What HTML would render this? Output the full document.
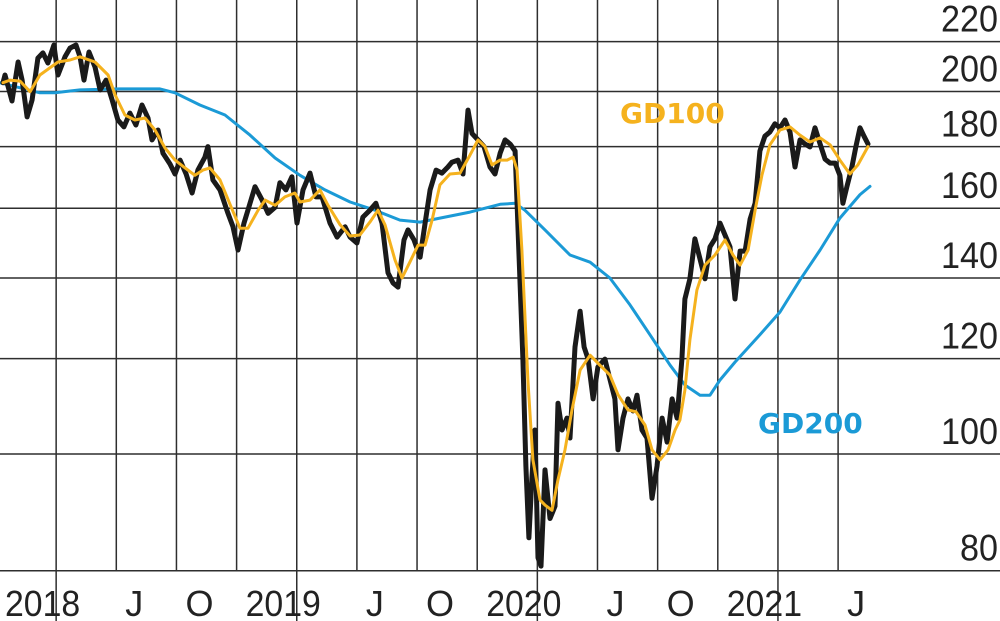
<!DOCTYPE html>
<html><head><meta charset="utf-8"><style>
html,body{margin:0;padding:0;background:#fff;}
svg{display:block;}
</style></head><body>
<svg id="chart" width="1000" height="621" viewBox="0 0 1000 621" xmlns="http://www.w3.org/2000/svg"></svg>
<script>
const priceMonths=[.35,.45,.8,1.1,1.3,1.55,1.8,2.09,2.34,2.59,2.89,3.09,3.44,3.69,3.99,4.19,4.39,4.64,4.94,5.19,5.49,5.79,6.08,6.38,6.68,6.98,7.28,7.58,7.78,8.08,8.33,8.68,8.93,9.18,9.48,9.78,10.07,10.42,10.57,10.82,11.17,11.57,11.82,12.07,12.37,12.67,12.92,13.27,13.57,13.92,14.16,14.46,14.76,15.01,15.31,15.66,15.96,16.26,16.66,17.01,17.41,17.66,18,18.3,18.65,18.95,19.25,19.55,19.8,20.05,20.35,20.55,20.85,21.15,21.4,21.65,21.95,22.24,22.54,22.74,23.04,23.29,23.54,23.74,24.04,24.34,24.64,24.89,25.14,25.39,25.64,25.89,26.13,26.28,26.43,26.58,26.73,26.88,27.03,27.18,27.38,27.63,27.88,28.03,28.23,28.48,28.63,28.88,29.13,29.33,29.53,29.78,30.02,30.37,30.62,30.87,31.02,31.27,31.52,31.77,31.97,32.22,32.47,32.72,32.97,33.22,33.47,33.72,33.97,34.21,34.36,34.61,34.86,35.11,35.36,35.61,35.86,36.11,36.36,36.61,36.86,37.11,37.36,37.61,37.86,38.1,38.35,38.6,38.85,39.1,39.35,39.6,39.85,40.1,40.35,40.6,40.85,41.1,41.35,41.6,41.85,42.09,42.24,42.44,42.69,42.89,43.09,43.29,43.49];
const priceValues=[203.4,206.4,196.4,211.6,204.4,190.5,196.8,213.2,215.3,211.2,218.6,206.4,213.7,217.3,218.6,213.7,204.4,215.7,209.6,200.6,204.4,196.8,189.4,186.9,191.9,187.6,194.9,190.1,182.3,185.8,177.7,174.1,170.8,175.4,170.8,164.7,172.1,176.4,180,168.9,165.7,158.4,154.4,147.7,155.5,161.5,166.7,162.5,158.4,160.3,168,165.7,169.9,155.5,165.7,171.1,163.5,163.5,155.5,151.4,154.4,151.4,149.7,157.3,159.4,161.5,155.5,141.4,138.7,137.6,150.6,153.5,150.6,145.7,155.5,165.7,172.1,171.1,173.1,174.7,175.4,170.8,193,184.6,182.3,180,173.1,170.8,177.7,182.3,180.9,178.5,139.8,119.9,97.7,85.2,95.5,104.7,82,80.7,97,88.4,90.5,110.2,104.7,107.1,103.1,122.7,131.4,122.7,119.9,111.1,118.1,119.9,115.4,111.1,100.8,107.1,111.1,108.6,111.9,104.7,103.1,91.9,97.7,107.1,102.3,111.1,107.1,119.9,134.5,139.8,150.9,145.2,139.8,148.6,150.9,155.5,152,148.6,134.5,147.4,147.4,156.7,161.5,178.5,183.6,185.1,188,186.6,189.4,185.1,173.1,182.3,180.9,179.9,186.6,180.9,175.7,174.4,174.4,170.4,161.5,166.7,173.1,180,186.6,183.6,180.9];
const gd100Months=[.35,.7,1.2,1.7,2.19,3.09,3.69,4.19,4.94,5.59,5.94,6.43,6.93,7.43,7.93,8.43,8.93,9.43,9.92,10.32,10.67,11.17,11.67,12.17,12.57,13.07,13.42,13.92,14.41,14.91,15.16,15.66,16.16,16.56,17.16,17.66,18.15,18.65,19.05,19.4,19.9,20.25,20.65,21.05,21.4,21.75,22.14,22.64,23.14,23.64,24.04,24.39,24.74,25.14,25.49,25.79,25.99,26.23,26.53,26.78,27.13,27.38,27.73,28.03,28.38,28.73,29.13,29.63,30.12,30.62,31.02,31.52,31.92,32.37,32.72,33.12,33.52,33.87,34.11,34.36,34.61,34.96,35.36,35.86,36.36,36.76,37.11,37.51,37.86,38.2,38.6,39.1,39.6,40.1,40.6,41.1,41.6,42.09,42.59,42.99,43.49];
const gd100Values=[203.4,204.4,204,199.9,206.4,211.6,212.4,213.7,211.6,206.4,198.7,191.2,189.4,190.1,185.8,179.5,175.4,172.8,170.4,172.1,172.8,168.9,161.2,154,154,159.4,162.5,160.9,163.5,164.7,161.9,162.5,165.7,160.9,155,151.7,152,155.8,159.4,155,144.9,140,144.4,149.1,149.1,156.4,167.3,170.8,171.1,177.1,182.3,180,173.8,175.4,175.4,176.4,172.1,147.7,115.2,98.9,91.6,90.7,89.8,95.2,100.8,108.8,117.4,120.8,118.5,116.3,112,108.8,108.4,105.7,100.8,98.9,100.8,104.7,106.7,113,124.4,136.8,143.5,146.3,150.6,146.3,143.5,147.7,159.4,170.4,180.6,185.8,186.9,184,181.6,183,180.6,175.4,170.8,173.8,180];
const gd200Months=[.2,1.2,2.19,2.94,4.19,6.18,8.18,8.93,10.17,11.42,12.67,13.92,15.16,16.41,17.66,18.9,20.15,21.15,22.14,23.64,25.14,25.89,26.38,27.38,28.63,29.63,30.62,31.62,32.62,33.62,34.36,35.11,35.61,36.11,36.86,38.1,39.1,40.1,41.1,42.09,43.09,43.59];
const gd200Values=[203.4,201.4,199.5,199.5,200.6,201,201,199.5,194.9,191.2,184,176.1,170.4,165.7,161.9,159.4,156.4,155.8,157,158.8,161.2,161.5,159.4,153.5,146.3,144.3,140,133,125.6,118.5,114.1,111.9,111.9,115.2,119.2,125.6,131.2,139.5,147.7,157,164.2,166.8];
const yTicks=[80,100,120,140,160,180,200,220];
const gridMonths=[3,6,9,12,15,18,21,24,27,30,33,36,39,42];
const xLabels=["2018","J","O","2019","J","O","2020","J","O","2021","J"];
const xLabelMonths=[0,6,9,12,18,21,24,30,33,36,42];

const NS="http://www.w3.org/2000/svg";
const svg=document.getElementById('chart');
function xS(m){return -4+m*20.05;}
function yS(v){return 454-523*Math.log(v/100);}
function mk(tag,attrs,parent){const e=document.createElementNS(NS,tag);for(const k in attrs)e.setAttribute(k,attrs[k]);(parent||svg).appendChild(e);return e;}

const grid=mk('g',{});


yTicks.forEach(v=>{
  const y=yS(v);
  const l=mk('line',{x1:0,x2:1000,y1:y,y2:y,stroke:'#2e2e2e','stroke-width':1.5},grid);
  
  
  const s=String(v);
  const t=mk('text',{x:998,y:y-10,'text-anchor':'end','font-family':'Liberation Sans, sans-serif','font-size':37,fill:'#222',textLength:s.length*19,lengthAdjust:'spacingAndGlyphs'});
  t.textContent=s;
  
  
});
gridMonths.forEach(m=>{
  const x=xS(m);
  const long=(m%12===3);
  const l=mk('line',{x1:x,x2:x,y1:0,y2:long?621:yS(80),stroke:'#2e2e2e','stroke-width':1.5},grid);
  
  
});
xLabels.forEach((s,i)=>{
  const attrs={x:xS(xLabelMonths[i])+9,y:616,'font-family':'Liberation Sans, sans-serif','font-size':36,fill:'#222'};
  if(s.length>1){attrs.textLength=s.length*18.8;attrs.lengthAdjust='spacingAndGlyphs';}
  const t=mk('text',attrs);
  t.textContent=s;
  
  
});
function line(ms,vs,color,w,name){
  const d=ms.map((m,i)=>(i?'L':'M')+xS(m).toFixed(1)+','+yS(vs[i]).toFixed(1)).join('');
  const p=mk('path',{d:d,fill:'none',stroke:color,'stroke-width':w,'stroke-linejoin':'round','stroke-linecap':'round'});
  
  
}
line(gd200Months,gd200Values,'#1b9ad6',3,'gd200-line');
line(priceMonths,priceValues,'#1a1a1a',5,'price-line');
line(gd100Months,gd100Values,'#f5b21e',3,'gd100-line');
const a=mk('text',{x:620,y:123,'font-family':'DejaVu Sans, sans-serif','font-weight':'bold','font-size':28,fill:'#f5b21e'});
a.textContent='GD100';


const b=mk('text',{x:758,y:433,'font-family':'DejaVu Sans, sans-serif','font-weight':'bold','font-size':28,fill:'#1b9ad6'});
b.textContent='GD200';


</script>
</body></html>
